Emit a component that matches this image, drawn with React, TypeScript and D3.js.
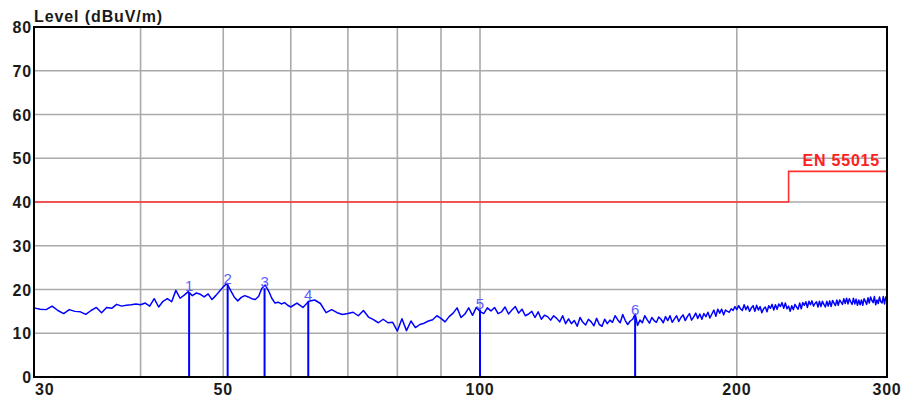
import React from 'react';
import * as d3 from 'd3';

// scan 30..60 MHz, 0.5 MHz step
const scanLowStart = 30;
const scanLowStep = 0.5;
const levelsLow = [
  15.8, 15.5, 15.4, 16.2, 15.2, 14.5, 15.4, 15.0, 14.9, 14.3,
  15.2, 15.9, 14.7, 15.9, 15.7, 16.6, 16.2, 16.4, 16.5, 16.7,
  16.5, 16.9, 16.2, 17.9, 16.0, 17.3, 17.9, 17.2, 19.8, 18.0,
  18.7, 19.5, 18.6, 19.2, 18.9, 18.3, 19.0, 17.7, 18.6, 19.6,
  20.6, 21.4, 19.8, 18.3, 17.4, 18.2, 18.6, 18.3, 17.9, 17.7,
  18.4, 20.3, 21.0, 19.7, 18.0, 16.9, 17.1, 16.7, 17.0, 16.4,
  16.0,
];

// scan 61..300 MHz, 1 MHz step
const scanHighStart = 61;
const scanHighStep = 1;
const levelsHigh = [
  16.9, 15.9, 17.3, 17.6, 16.8, 14.7, 15.4, 14.7, 14.3, 14.5,
  14.8, 14.0, 15.2, 13.7, 13.1, 12.4, 13.2, 12.4, 12.5, 10.5,
  13.3, 10.6, 12.8, 11.3, 12.0, 12.3, 12.8, 13.1, 14.0, 13.4,
  12.6, 13.8, 14.6, 15.8, 13.6, 14.4, 15.8, 14.1, 15.9, 15.0,
  14.5, 15.8, 15.1, 15.9, 14.5, 14.9, 16.0, 14.4, 15.3, 16.1,
  14.6, 15.5, 14.0, 14.4, 15.0, 13.6, 14.9, 13.2, 14.1, 13.8,
  13.0, 14.0, 13.4, 12.6, 14.0, 12.2, 13.3, 12.2, 12.9, 11.6,
  13.6, 12.5, 11.9, 13.2, 12.6, 11.7, 13.4, 12.0, 11.6, 13.2,
  12.2, 13.0, 12.5, 14.0, 13.1, 12.4, 14.3, 12.9, 12.0, 12.8,
  13.2, 14.4, 11.8, 13.0, 12.4, 14.0, 13.1, 12.3, 13.6, 12.9,
  12.5, 13.7, 13.2, 12.4, 13.8, 12.9, 14.0, 12.5, 13.3, 14.0,
  12.7, 13.6, 14.2, 12.9, 13.8, 14.5, 13.0, 13.7, 14.6, 13.4,
  14.4, 13.2, 14.5, 13.8, 14.8, 13.5, 14.4, 15.3, 13.9, 15.5,
  14.6, 15.5, 14.2, 15.3, 15.0, 14.8, 15.6, 15.2, 16.1, 15.4,
  16.3, 15.6, 15.2, 16.5, 15.4, 16.2, 15.0, 15.8, 16.3, 15.0,
  16.4, 15.3, 16.1, 14.7, 15.6, 16.0, 14.9, 16.3, 15.7, 16.6,
  15.3, 16.5, 15.5, 16.7, 16.1, 17.0, 15.7, 16.9, 15.6, 16.2,
  15.0, 16.3, 15.4, 16.6, 16.0, 15.5, 16.9, 15.6, 17.0, 16.4,
  17.2, 15.9, 17.3, 16.5, 17.4, 16.2, 16.8, 17.2, 16.0, 17.3,
  16.1, 17.3, 16.6, 16.0, 17.3, 16.2, 17.4, 16.1, 17.5, 16.9,
  16.3, 17.6, 16.4, 17.6, 17.1, 16.6, 17.9, 16.8, 18.0, 16.7,
  17.9, 17.2, 16.6, 18.0, 16.7, 17.8, 16.4, 17.6, 16.5, 17.6,
  16.4, 17.9, 17.3, 16.6, 18.1, 16.9, 18.3, 17.5, 17.0, 18.4,
  16.5, 17.6, 16.8, 18.3, 17.2, 16.9, 18.4, 16.7, 18.3, 17.8,
];

const markerLabels = ['1', '2', '3', '4', '5', '6'];
const markerFreqs = [45.6, 50.6, 55.9, 62.9, 100.0, 152.0];
const markerLevels = [19.4, 21.1, 20.3, 17.3, 15.4, 13.9];

const limitName = 'EN 55015';
const limitFreqs = [30, 230, 230, 300];
const limitLevels = [40, 40, 47, 47];

const xGridFreqs = [40, 50, 60, 70, 80, 90, 100, 200];
const xTickLabels = [30, 50, 100, 200, 300];
const yTicks = [0, 10, 20, 30, 40, 50, 60, 70, 80];
const yTitle = 'Level (dBuV/m)';

const W = 903;
const H = 403;
const LEFT = 34;
const RIGHT = 887;
const TOP = 27;
const BOTTOM = 377;
const FONT = '"Liberation Sans", Arial, Helvetica, sans-serif';

export default function App() {
  const x = d3.scaleLog().domain([30, 300]).range([LEFT, RIGHT]);
  const y = d3.scaleLinear().domain([0, 80]).range([BOTTOM, TOP]);

  const trace: [number, number][] = [
    ...levelsLow.map((v, i) => [scanLowStart + i * scanLowStep, v] as [number, number]),
    ...levelsHigh.map((v, i) => [scanHighStart + i * scanHighStep, v] as [number, number]),
  ];

  const line = d3.line<[number, number]>()
    .x(d => x(d[0]))
    .y(d => y(d[1]));

  const limit = limitFreqs.map((f, i) => [f, limitLevels[i]] as [number, number]);

  return (
    <svg width={W} height={H} style={{ position: 'absolute', left: 0, top: 0, background: '#fff' }}
      fontFamily={FONT}>
      {/* grid */}
      <g stroke="#aaaaaa" strokeWidth={1.6}>
        {yTicks.filter(t => t > 0 && t < 80).map(t => (
          <line key={'y' + t} x1={LEFT} x2={RIGHT} y1={y(t)} y2={y(t)} />
        ))}
        {xGridFreqs.map(f => (
          <line key={'x' + f} x1={x(f)} x2={x(f)} y1={TOP} y2={BOTTOM} />
        ))}
      </g>

      {/* limit line */}
      <path d={line(limit) || ''} fill="none" stroke="#ff3030" strokeWidth={1.6} />
      <text x={880} y={166} textAnchor="end" fill="#ff2020" fontWeight="bold" fontSize={16}
        letterSpacing={0.8}>{limitName}</text>

      {/* measurement trace */}
      <path d={line(trace) || ''} fill="none" stroke="#0000ff" strokeWidth={1.5} strokeLinejoin="round" />

      {/* markers */}
      {markerFreqs.map((f, i) => (
        <g key={'m' + i}>
          <line x1={x(f)} x2={x(f)} y1={y(markerLevels[i])} y2={BOTTOM} stroke="#0000ff" strokeWidth={2} />
          <text x={x(f)} y={y(markerLevels[i]) - 1} textAnchor="middle" fontSize={15}
            fill="#5c5cff">{markerLabels[i]}</text>
        </g>
      ))}

      {/* frame */}
      <rect x={LEFT} y={TOP} width={RIGHT - LEFT} height={BOTTOM - TOP} fill="none" stroke="#000" strokeWidth={2} />

      {/* y axis labels */}
      {yTicks.map(t => (
        <text key={'yl' + t} x={32} y={y(t) + 6} textAnchor="end" fontSize={16} fontWeight="bold"
          fill="#1a1a1a" letterSpacing={0.8}>{t}</text>
      ))}

      {/* x axis labels */}
      {xTickLabels.map((f, i) => (
        <text key={'xl' + f} x={i === 0 ? LEFT + 1 : x(f)} y={395} textAnchor={i === 0 ? 'start' : 'middle'}
          fontSize={16} fontWeight="bold" fill="#1a1a1a" letterSpacing={0.8}>{f}</text>
      ))}

      <text x={LEFT} y={22} fontSize={16} fontWeight="bold" fill="#1a1a1a" letterSpacing={0.9}>{yTitle}</text>
    </svg>
  );
}
